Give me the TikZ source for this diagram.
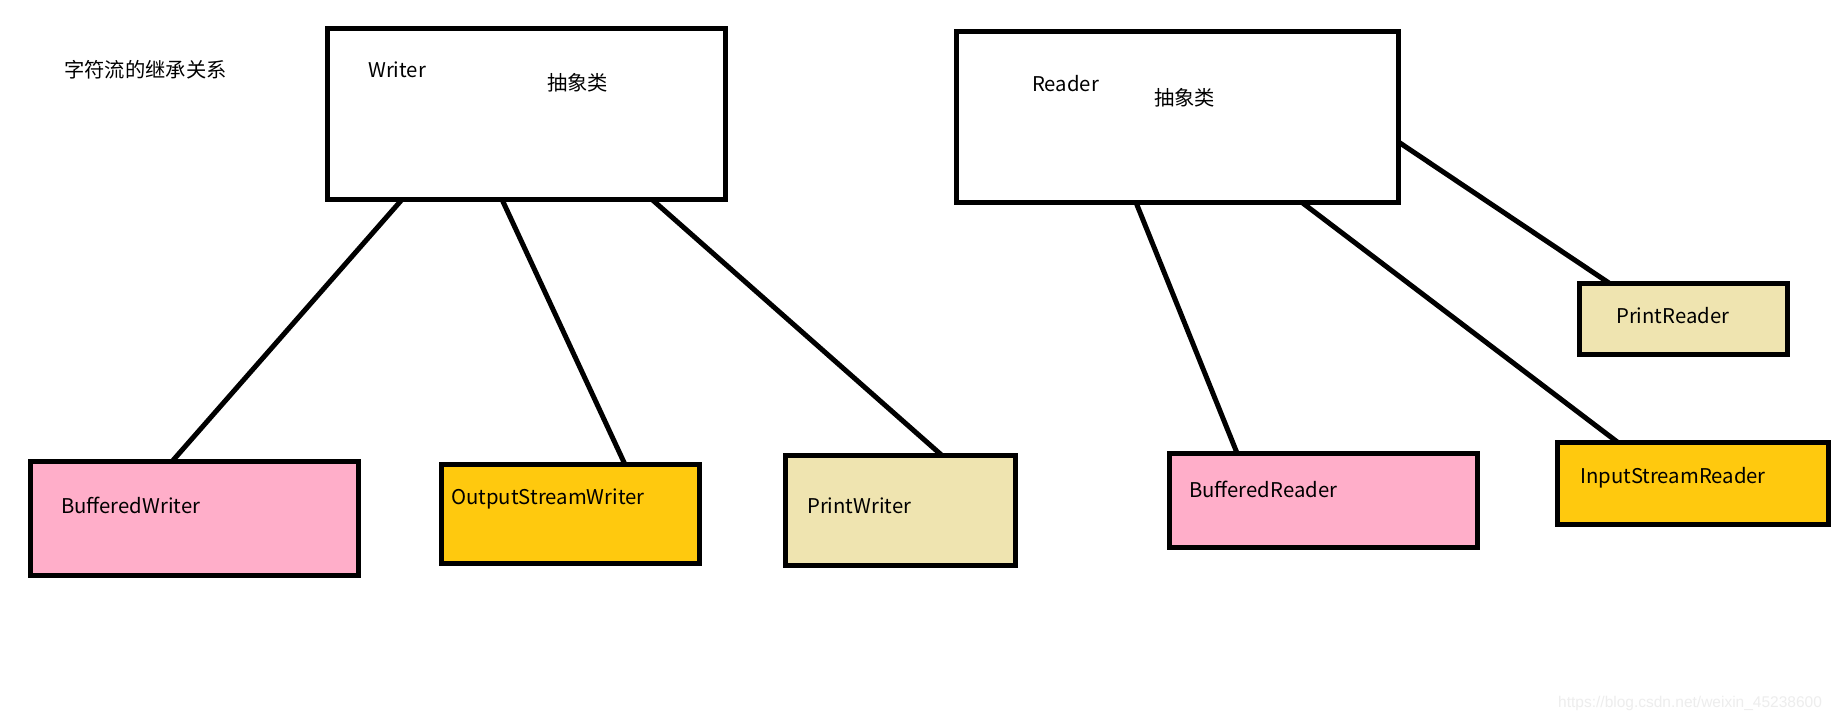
\documentclass[tikz,border=0pt]{standalone}
\usepackage{fontspec}
\setmainfont{Noto Sans CJK SC}
\newfontfamily\wmfont{Liberation Sans}
\definecolor{rose}{RGB}{255,174,201}
\definecolor{goldc}{RGB}{255,201,14}
\definecolor{tan}{RGB}{239,228,176}
\begin{document}
\begin{tikzpicture}[x=1pt,y=-1pt,
  box/.style={draw=black,line width=5pt,rectangle,inner sep=0pt,outer sep=0pt,miter limit=10},
  lbl/.style={anchor=west,inner sep=0pt,font=\fontsize{20.3}{24}\selectfont},
  link/.style={draw=black,line width=5pt}]
\fill[white] (0,0) rectangle (1839,722);
\useasboundingbox (0,0) rectangle (1839,722);
% boxes
\node[box,minimum width=398pt,minimum height=171pt] (w) at (526.5,114) {};
\node[box,minimum width=442pt,minimum height=171pt] (r) at (1177.5,117) {};
\node[box,fill=rose,minimum width=328pt,minimum height=114pt] (bw) at (194.5,518.5) {};
\node[box,fill=goldc,minimum width=258pt,minimum height=99pt] (osw) at (570.5,514) {};
\node[box,fill=tan,minimum width=230pt,minimum height=110pt] (pw) at (900,510.5) {};
\node[box,fill=rose,minimum width=308pt,minimum height=94pt] (br) at (1323.5,500) {};
\node[box,fill=goldc,minimum width=271pt,minimum height=82pt] (isr) at (1693,483.5) {};
\node[box,fill=tan,minimum width=208pt,minimum height=71.5pt] (pr) at (1683,318.75) {};
% texts
\node[lbl] (title) at (64,69.5) {字符流的继承关系};
\node[lbl] (wt) at (368,69.5) {Writer};
\node[lbl] (wa) at (547,82.5) {抽象类};
\node[lbl] (rt) at (1032,83.5) {Reader};
\node[lbl] (ra) at (1154,97.5) {抽象类};
\node[lbl] (bwt) at (61,505) {BufferedWriter};
\node[lbl] (oswt) at (451,498.5) {OutputStreamWriter};
\node[lbl] (pwt) at (807,506) {PrintWriter};
\node[lbl] (brt) at (1189,489.5) {BufferedReader};
\node[lbl] (isrt) at (1580,478) {InputStreamReader};
\node[lbl] (prt) at (1616,315.5) {PrintReader};
\node[anchor=west,inner sep=0pt,text=black!7,font=\wmfont\fontsize{15.5}{17}\selectfont] (wm) at (1558,703) {https://blog.csdn.net/weixin\_45238600};
% connectors
\draw[link] ([xshift=74.5pt]w.south west) -- ([xshift=141.5pt]bw.north west);
\draw[link] ([xshift=174.5pt]w.south west) -- ([xshift=183.5pt]osw.north west);
\draw[link] ([xshift=324.5pt]w.south west) -- ([xshift=157pt]pw.north west);
\draw[link] ([xshift=179.5pt]r.south west) -- ([xshift=67.5pt]br.north west);
\draw[link] ([xshift=345.5pt]r.south west) -- ([xshift=60.5pt]isr.north west);
\draw[link] ([yshift=-110.5pt]r.north east) -- ([xshift=30pt]pr.north west);
\end{tikzpicture}
\end{document}
